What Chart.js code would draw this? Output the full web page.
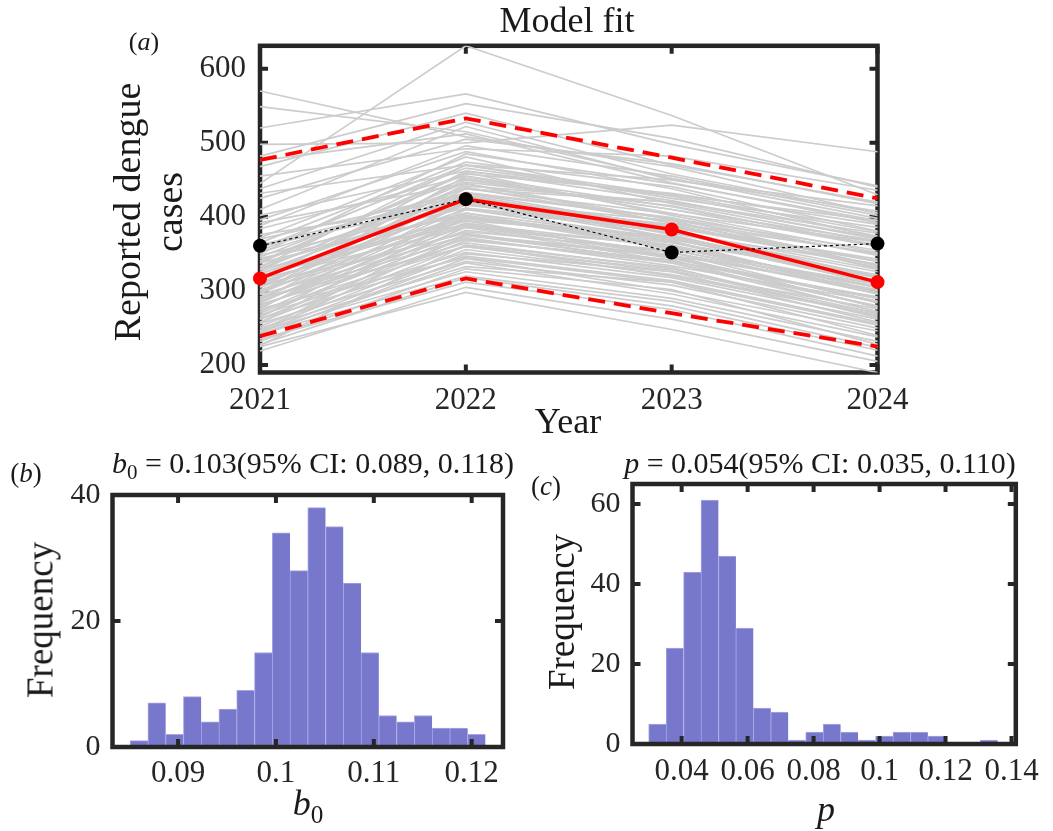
<!DOCTYPE html>
<html>
<head>
<meta charset="utf-8">
<title>Model fit</title>
<script src="https://cdn.jsdelivr.net/npm/chart.js@4.4.1/dist/chart.umd.min.js"></script>
<style>
  body { margin: 0; background: #fff; }
  #page { position: relative; width: 1053px; height: 831px; overflow: hidden;
          font-family: 'Liberation Serif', 'Times New Roman', serif; color: #1a1a1a; }
  canvas { position: absolute; }
  .lbl { position: absolute; transform: translate(-50%, -50%); white-space: nowrap; line-height: 1; }
  .rot { transform: translate(-50%, -50%) rotate(-90deg); }
  sub { font-size: 0.7em; vertical-align: -0.3em; line-height: 0; }
</style>
</head>
<body>
<div id="page">
  <canvas id="fitChart" width="1053" height="440" style="left:0px;top:0px"></canvas>
  <canvas id="b0Chart" width="530" height="400" style="left:0px;top:430px"></canvas>
  <canvas id="pChart" width="523" height="400" style="left:530px;top:430px"></canvas>

  <div class="lbl" style="left:567px;top:20px;font-size:36px">Model fit</div>
  <div class="lbl" style="left:144px;top:42px;font-size:26px">(<i>a</i>)</div>
  <div class="lbl rot" style="left:148px;top:212px;font-size:38px;line-height:42px;text-align:center">Reported dengue<br>cases</div>
  <div class="lbl" style="left:568px;top:421px;font-size:36px">Year</div>

  <div class="lbl" style="left:313px;top:463px;font-size:30px"><i>b</i><sub>0</sub> = 0.103(95% CI: 0.089, 0.118)</div>
  <div class="lbl" style="left:26px;top:473px;font-size:27px">(<i>b</i>)</div>
  <div class="lbl rot" style="left:40px;top:620px;font-size:37px">Frequency</div>
  <div class="lbl" style="left:308px;top:803px;font-size:36px"><i>b</i><sub>0</sub></div>

  <div class="lbl" style="left:820px;top:463px;font-size:30px"><i>p</i> = 0.054(95% CI: 0.035, 0.110)</div>
  <div class="lbl" style="left:546px;top:486px;font-size:27px">(<i>c</i>)</div>
  <div class="lbl rot" style="left:561px;top:612px;font-size:37px">Frequency</div>
  <div class="lbl" style="left:826px;top:809px;font-size:36px"><i>p</i></div>
</div>
<script>
// panel (a): reported vs fitted cases
const years = ['2021', '2022', '2023', '2024'];
const observed = [361, 424, 352, 364];
const fitMedian = [317, 424, 383, 312];
const fitUpper = [477, 533, 480, 425];
const fitLower = [239, 317, 270, 225];

// sampled trajectories (grey)
const sims = [
  [445, 631, 537, 430], [570, 508, 468, 405], [549, 515, 452, 398], [520, 566, 498, 442],
  [498, 500, 524, 488], [482, 553, 506, 440], [468, 540, 470, 420], [455, 492, 482, 436],
  [438, 528, 458, 405], [476, 512, 446, 392], [425, 505, 472, 418], [410, 522, 450, 415],
  [396, 488, 438, 372], [432, 470, 425, 386], [388, 496, 455, 402], [372, 481, 418, 366],
  [402, 462, 430, 395], [365, 474, 441, 381], [384, 455, 405, 352], [358, 466, 428, 374],
  [346, 452, 410, 368], [392, 445, 392, 340], [352, 438, 420, 378], [338, 460, 402, 348],
  [370, 432, 398, 355], [328, 447, 415, 361], [341, 428, 387, 343], [360, 421, 395, 330],
  [322, 440, 392, 351], [334, 418, 378, 336], [348, 412, 384, 318], [315, 433, 399, 334],
  [326, 425, 372, 322], [309, 416, 388, 340], [338, 405, 370, 314], [318, 410, 381, 329],
  [300, 428, 376, 311], [324, 398, 365, 320], [296, 420, 390, 332], [312, 402, 360, 306],
  [305, 395, 374, 318], [289, 412, 366, 300], [330, 390, 352, 297], [298, 400, 371, 310],
  [284, 405, 358, 309], [316, 386, 362, 296], [292, 392, 348, 302], [278, 398, 368, 296],
  [302, 380, 355, 305], [286, 388, 344, 290], [272, 391, 360, 298], [295, 375, 346, 286],
  [280, 382, 352, 284], [266, 386, 340, 292], [290, 370, 338, 280], [270, 376, 348, 278],
  [262, 372, 334, 286], [282, 365, 330, 270], [258, 368, 342, 272], [274, 360, 326, 276],
  [252, 362, 332, 264], [268, 352, 318, 262], [248, 356, 322, 270], [262, 347, 314, 256],
  [244, 350, 326, 258], [256, 340, 308, 250], [240, 344, 300, 246], [250, 333, 312, 240],
  [242, 338, 296, 238], [246, 326, 290, 232], [232, 330, 302, 228], [242, 320, 286, 224],
  [228, 318, 280, 220], [219, 305, 262, 205], [225, 298, 248, 190], [235, 312, 275, 212],
  [354, 470, 450, 408], [340, 458, 432, 390], [330, 442, 420, 372], [318, 450, 410, 360],
  [305, 438, 404, 366], [296, 445, 396, 350], [362, 430, 380, 320], [376, 418, 372, 310],
  [344, 402, 356, 296], [320, 395, 345, 278], [308, 378, 338, 272], [290, 360, 328, 266],
  [276, 345, 312, 254], [350, 485, 445, 395], [332, 470, 430, 380], [314, 462, 422, 370],
  [298, 455, 414, 362], [288, 432, 386, 336], [276, 420, 378, 326], [264, 410, 370, 318],
  [256, 400, 362, 305], [246, 388, 352, 300], [244, 375, 340, 290], [226, 362, 320, 268]
];

// panel (b): histogram of b0
const b0Edges = [0.08510, 0.08692, 0.08873, 0.09055, 0.09236, 0.09418, 0.09599, 0.09781,
                 0.09962, 0.10144, 0.10325, 0.10507, 0.10688, 0.10870, 0.11051, 0.11233,
                 0.11414, 0.11596, 0.11777, 0.11959, 0.12140];
const b0Counts = [1, 7, 2, 8, 4, 6, 9, 15, 34, 28, 38, 35, 26, 15, 5, 4, 5, 3, 3, 2];

// panel (c): histogram of p
const pEdges = [0.03000, 0.03529, 0.04058, 0.04587, 0.05116, 0.05645, 0.06174, 0.06703,
                0.07232, 0.07761, 0.08290, 0.08819, 0.09348, 0.09877, 0.10406, 0.10935,
                0.11464, 0.11993, 0.12522, 0.13051, 0.13580];
const pCounts = [5, 24, 43, 61, 47, 29, 9, 8, 1, 3, 5, 3, 1, 2, 3, 3, 2, 0, 0, 1];

Chart.defaults.font.family = "'Liberation Serif', 'Times New Roman', serif";
Chart.defaults.color = '#262626';

const axisColor = '#262626';

// MATLAB style box with inward ticks on all four sides
function drawFrame(chart) {
  const { ctx, chartArea: a, scales } = chart;
  ctx.save();
  ctx.strokeStyle = axisColor;
  ctx.lineWidth = 4;
  ctx.beginPath();
  scales.x.ticks.forEach((t, i) => {
    const px = scales.x.getPixelForTick(i);
    ctx.moveTo(px, a.bottom); ctx.lineTo(px, a.bottom - 8);
    ctx.moveTo(px, a.top); ctx.lineTo(px, a.top + 8);
  });
  scales.y.ticks.forEach((t, i) => {
    const py = scales.y.getPixelForTick(i);
    ctx.moveTo(a.left, py); ctx.lineTo(a.left + 8, py);
    ctx.moveTo(a.right, py); ctx.lineTo(a.right - 8, py);
  });
  ctx.stroke();
  ctx.lineWidth = 4.5;
  ctx.strokeRect(a.left, a.top, a.right - a.left, a.bottom - a.top);
  ctx.restore();
}

const framePlugin = {
  id: 'frame',
  beforeDatasetsDraw(chart, args, opts) { if (!opts.onTop) drawFrame(chart); },
  afterDatasetsDraw(chart, args, opts) { if (opts.onTop) drawFrame(chart); }
};

const noGrid = { display: false, drawTicks: false };

// ---- (a) model fit ----
const simSets = sims.map(s => ({
  data: s, borderColor: '#cccccc', borderWidth: 1.7, pointRadius: 0, order: 3
}));

new Chart(document.getElementById('fitChart'), {
  type: 'line',
  data: {
    labels: years,
    datasets: [
      { data: observed, borderColor: '#000000', borderWidth: 1.2, borderDash: [3, 3],
        pointRadius: 7, pointBackgroundColor: '#000000', pointBorderWidth: 0, clip: false, order: 0 },
      { data: fitMedian, borderColor: '#ff0000', borderWidth: 3.5,
        pointRadius: 7, pointBackgroundColor: '#ff0000', pointBorderWidth: 0, clip: false, order: 1 },
      { data: fitUpper, borderColor: '#ff0000', borderWidth: 3.8, borderDash: [17, 9],
        pointRadius: 0, clip: false, order: 2 },
      { data: fitLower, borderColor: '#ff0000', borderWidth: 3.8, borderDash: [17, 9],
        pointRadius: 0, clip: false, order: 2 },
      ...simSets
    ]
  },
  options: {
    responsive: false,
    animation: false,
    layout: { padding: { left: 180, top: 45.8, right: 175.5, bottom: 7.5 } },
    plugins: { legend: { display: false }, tooltip: { enabled: false }, frame: { onTop: false } },
    scales: {
      x: {
        type: 'category', offset: false, grid: noGrid, border: { display: false },
        ticks: { padding: 10, font: { size: 31 }, maxRotation: 0, autoSkip: false },
        afterFit: s => { s.height = 60; }
      },
      y: {
        min: 190, max: 631, grid: noGrid, border: { display: false },
        ticks: { stepSize: 100, includeBounds: false, padding: 14, font: { size: 31 } },
        afterFit: s => { s.width = 80; }
      }
    }
  },
  plugins: [framePlugin]
});

// ---- (b), (c) histograms ----
function binPoints(edges, counts) {
  return counts.map((c, i) => ({ x: (edges[i] + edges[i + 1]) / 2, y: c }));
}

function makeHist(id, edges, counts, xr, yr, pad, xPad) {
  return new Chart(document.getElementById(id), {
    type: 'bar',
    data: {
      datasets: [{
        data: binPoints(edges, counts),
        backgroundColor: '#7777cc',
        borderColor: '#a6a6e6',
        borderWidth: { left: 1, top: 1, right: 0, bottom: 0 },
        borderSkipped: false,
        barPercentage: 1,
        categoryPercentage: 1
      }]
    },
    options: {
      responsive: false,
      animation: false,
      layout: { padding: pad },
      plugins: { legend: { display: false }, tooltip: { enabled: false }, frame: { onTop: true } },
      scales: {
        x: {
          type: 'linear', min: xr[0], max: xr[1], offset: false, grid: noGrid, border: { display: false },
          ticks: { stepSize: xr[2], includeBounds: false, padding: xPad, font: { size: 31 }, maxRotation: 0,
                   callback: v => String(Number(v.toFixed(4))) },
          afterFit: s => { s.height = 60; }
        },
        y: {
          min: 0, max: yr[0], grid: noGrid, border: { display: false },
          ticks: { stepSize: yr[1], includeBounds: false, padding: 12, font: { size: 30 } },
          afterFit: s => { s.width = 80; }
        }
      }
    },
    plugins: [framePlugin]
  });
}

makeHist('b0Chart', b0Edges, b0Counts, [0.0833, 0.1232, 0.01], [40, 20],
         { left: 32.5, top: 65, right: 27, bottom: 23 }, 8);
makeHist('pChart', pEdges, pCounts, [0.0251, 0.1413, 0.02], [65, 20],
         { left: 22.5, top: 54, right: 37.2, bottom: 26 }, 9.5);
</script>
</body>
</html>
